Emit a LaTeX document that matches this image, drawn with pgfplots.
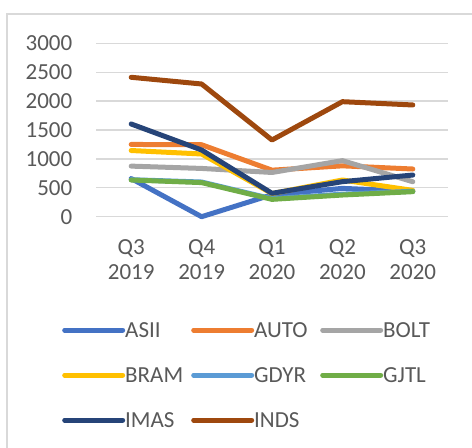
\documentclass[border=0pt]{standalone}
\usepackage{pgfplots}
\pgfplotsset{compat=1.18}
\usepackage{fontspec}
\setmainfont{Carlito}
\definecolor{cASII}{HTML}{4472C4}
\definecolor{cAUTO}{HTML}{ED7D31}
\definecolor{cBOLT}{HTML}{A5A5A5}
\definecolor{cBRAM}{HTML}{FFC000}
\definecolor{cGDYR}{HTML}{5B9BD5}
\definecolor{cGJTL}{HTML}{70AD47}
\definecolor{cIMAS}{HTML}{264478}
\definecolor{cINDS}{HTML}{9E480E}
\definecolor{gridc}{HTML}{D9D9D9}
\definecolor{txt}{HTML}{595959}
\begin{document}
\begin{tikzpicture}
\useasboundingbox (0,0) rectangle (472bp,448bp);
\draw[gridc, line width=1.5bp] (7bp,-5bp) -- (7bp,434bp) -- (480bp,434bp);
\begin{axis}[
  at={(96bp,231.3bp)}, anchor=south west,
  scale only axis, width=352bp, height=173.4bp,
  xmin=-0.5, xmax=4.5, ymin=0, ymax=3000,
  clip=false,
  axis line style={draw=none},
  major tick length=0pt,
  ytick={0,500,1000,1500,2000,2500,3000},
  xtick={0,1,2,3,4},
  xticklabels={{Q3\\2019},{Q4\\2019},{Q1\\2020},{Q2\\2020},{Q3\\2020}},
  ymajorgrids,
  grid style={gridc, line width=1.3bp},
  /pgf/number format/assume math mode=true,
  /pgf/number format/set thousands separator={},
  tick label style={font=\fontsize{23bp}{25bp}\selectfont, text=txt},
  yticklabel style={anchor=east, inner sep=0pt, xshift=-23.5bp},
  xticklabel style={align=center, anchor=north, inner sep=0pt, yshift=-23bp},
  legend columns=3,
  legend style={at={(-0.0966,-0.584)}, anchor=north west, draw=none, fill=none,
    inner sep=0pt, column sep=0pt, row sep=21bp,
    font=\fontsize{23bp}{25bp}\selectfont, text=txt,
    cells={anchor=west},
    nodes={inner sep=0pt, text height=19bp, text depth=5bp}},
  legend image code/.code={
    \path (0bp,0bp) -- (58bp,0bp);
    \draw[#1, line width=4.5bp, line cap=round] (2.25bp,0bp) -- (52.75bp,0bp);
  },
  every axis plot/.append style={line width=5bp, line join=round, line cap=round, mark=none},
]
\addplot[cASII] coordinates {(0,660) (1,0) (2,380) (3,490) (4,440)};
\addlegendentry{\makebox[66bp][l]{ASII}}
\addplot[cAUTO] coordinates {(0,1250) (1,1245) (2,805) (3,880) (4,825)};
\addlegendentry{\makebox[66bp][l]{AUTO}}
\addplot[cBOLT] coordinates {(0,875) (1,835) (2,765) (3,970) (4,605)};
\addlegendentry{\makebox[66bp][l]{BOLT}}
\addplot[cBRAM] coordinates {(0,1145) (1,1085) (2,400) (3,635) (4,455)};
\addlegendentry{\makebox[66bp][l]{BRAM}}
\addplot[cGDYR] coordinates {(0,640) (1,600) (2,310) (3,390) (4,440)};
\addlegendentry{\makebox[66bp][l]{GDYR}}
\addplot[cGJTL] coordinates {(0,635) (1,590) (2,300) (3,375) (4,433)};
\addlegendentry{\makebox[66bp][l]{GJTL}}
\addplot[cIMAS] coordinates {(0,1604) (1,1154) (2,405) (3,606) (4,721)};
\addlegendentry{\makebox[66bp][l]{IMAS}}
\addplot[cINDS] coordinates {(0,2412) (1,2296) (2,1327) (3,1990) (4,1933)};
\addlegendentry{\makebox[66bp][l]{INDS}}
\end{axis}
\end{tikzpicture}
\end{document}
